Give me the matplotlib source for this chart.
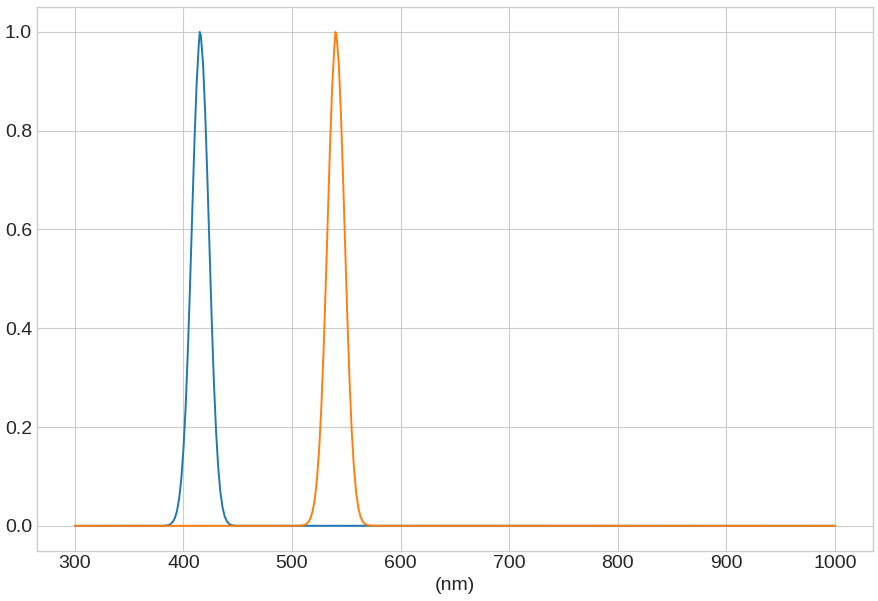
import matplotlib

matplotlib.use("Agg")

import matplotlib.pyplot as plt

blue_nm = [300, 380, 382, 384, 386, 388, 390, 392, 394, 396, 398, 400, 402, 404, 406,
           408, 410, 412, 414, 415, 416, 418, 420, 422, 424, 426, 428, 430, 432, 434,
           436, 438, 440, 442, 444, 446, 448, 450, 1000]
blue_val = [0.0, 0.0001, 0.0002, 0.0006, 0.0015, 0.0034, 0.0074, 0.0153, 0.0298, 0.0549,
            0.0952, 0.156, 0.241, 0.352, 0.484, 0.628, 0.770, 0.890, 0.971, 1.0, 0.993,
            0.937, 0.836, 0.705, 0.561, 0.418, 0.292, 0.192, 0.118, 0.0683, 0.0371,
            0.0189, 0.0090, 0.0040, 0.0017, 0.0007, 0.0003, 0.0001, 0.0]

orange_nm = [300, 505, 507, 509, 511, 513, 515, 517, 519, 521, 523, 525, 527, 529, 531,
             533, 535, 537, 539, 540, 541, 543, 545, 547, 549, 551, 553, 555, 557, 559,
             561, 563, 565, 567, 569, 571, 573, 575, 1000]
orange_val = [0.0, 0.0001, 0.0002, 0.0006, 0.0015, 0.0034, 0.0074, 0.0153, 0.0298, 0.0549,
              0.0952, 0.156, 0.241, 0.352, 0.484, 0.628, 0.770, 0.890, 0.971, 1.0, 0.993,
              0.937, 0.836, 0.705, 0.561, 0.418, 0.292, 0.192, 0.118, 0.0683, 0.0371,
              0.0189, 0.0090, 0.0040, 0.0017, 0.0007, 0.0003, 0.0001, 0.0]

x_label = "(nm)"


def main():
    plt.style.use("seaborn-v0_8-whitegrid")
    plt.rcParams["font.family"] = ["Liberation Sans", "DejaVu Sans"]

    fig = plt.figure(figsize=(8.79, 6.01), dpi=100)
    ax = fig.add_axes([0.042, 0.084, 0.951, 0.904])

    ax.plot(blue_nm, blue_val, color="#1f77b4", linewidth=1.4)
    ax.plot(orange_nm, orange_val, color="#ff7f0e", linewidth=1.4)

    ax.set_xticks(range(300, 1001, 100))
    ax.set_yticks([0.0, 0.2, 0.4, 0.6, 0.8, 1.0])
    ax.tick_params(labelsize=14, colors="#262626")
    ax.set_xlabel(x_label, fontsize=14, color="#262626", labelpad=3)
    for spine in ax.spines.values():
        spine.set_visible(True)
        spine.set_color("#cccccc")
        spine.set_linewidth(1.0)

    fig.savefig("out.png", dpi=100)
    plt.close(fig)


if __name__ == "__main__":
    main()
